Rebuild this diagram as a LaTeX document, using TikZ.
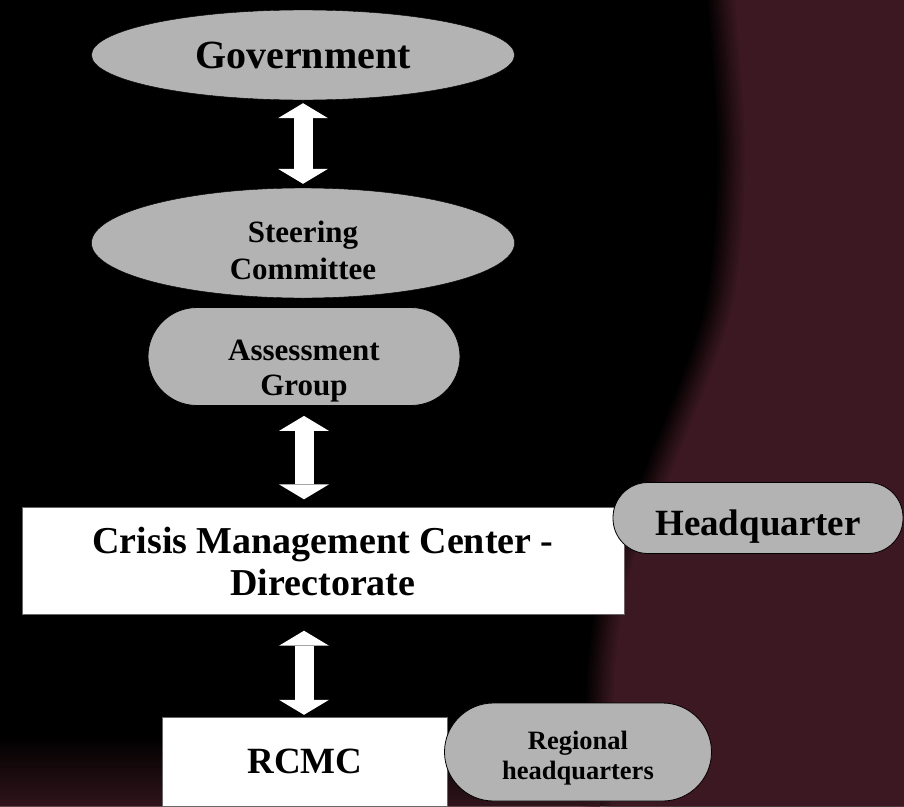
\documentclass[tikz,border=0pt]{standalone}
\usepackage{fontspec}
\setmainfont{Liberation Serif}
\usepackage{tikz}
\usetikzlibrary{shapes.geometric}
\usetikzlibrary{arrows.meta}
\definecolor{nodegray}{RGB}{179,179,179}
\definecolor{maroon}{RGB}{60,25,34}
\newcommand{\fsize}[2]{\bfseries\fontsize{#1}{#2}\selectfont}
\newcommand{\topstrut}[1]{\rule{0pt}{#1pt}}
\tikzset{
  oval node/.style = {draw=black, fill=nodegray, ellipse, inner sep=0pt},
  pill node/.style = {draw=black, thick, fill=nodegray, rectangle, rounded corners=#1, inner sep=0pt},
  box node/.style = {draw=black!60, fill=white, rectangle, inner sep=0pt},
  link/.style = {white, line width=19pt,
    {Triangle[width=50pt,length=15pt,line width=0pt]}-{Triangle[width=50pt,length=15pt,line width=0pt]}}
}

\begin{document}
\begin{tikzpicture}[
  x=1pt, y=-1pt,
  every node/.style = {align=center, text=black},
]
\useasboundingbox (0,0) rectangle (904,806);
% background
\fill[black] (0,0) rectangle (904,806);
\foreach \i in {0,...,12} {
  \pgfmathsetmacro{\mix}{\i*100/12}
  \fill[maroon!\mix!black, xshift=\i*2.5pt]
    plot[smooth] coordinates {(705,0) (715,154) (702,308) (645,463) (602,565) (585,668) (582,806)}
    -- (904,806) -- (904,0) -- cycle;
}
\shade[top color=black, bottom color=maroon, opacity=0.8] (0,735) rectangle (600,806);

\node[oval node, minimum width=423pt, minimum height=90pt, font=\fsize{40}{44}] (gov) at (303,55)
  {Government};
\node[oval node, minimum width=423pt, minimum height=110pt, font=\fsize{31}{37}] (steer) at (303,243)
  {\topstrut{37}Steering\\Committee};
\node[pill node=49pt, minimum width=312pt, minimum height=98pt, font=\fsize{31}{35}] (assess) at (304,356.5)
  {\topstrut{49}Assessment\\Group};
\node[box node, minimum width=602pt, minimum height=107pt, font=\fsize{38}{42}] (cmc) at (323,561)
  {Crisis Management Center -\\Directorate};
\node[pill node=35pt, minimum width=290pt, minimum height=71pt, font=\fsize{37}{42}] (hq) at (758,518)
  {\topstrut{42}Headquarter};
\node[box node, minimum width=285pt, minimum height=89pt, font=\fsize{37}{42}] (rcmc) at (305,761.5)
  {RCMC};
\node[pill node=49pt, minimum width=267pt, minimum height=98pt, font=\fsize{26.5}{30}] (region) at (578,752)
  {\topstrut{30}Regional\\headquarters};

\draw[link, shorten <=3pt, shorten >=4pt] (gov) -- (steer);
\draw[link, shorten <=10pt, shorten >=8pt] (assess.south) -- (assess.south |- cmc.north);
\draw[link, shorten <=16pt, shorten >=2pt] (assess.south |- cmc.south) -- (assess.south |- rcmc.north);
\end{tikzpicture}
\end{document}
